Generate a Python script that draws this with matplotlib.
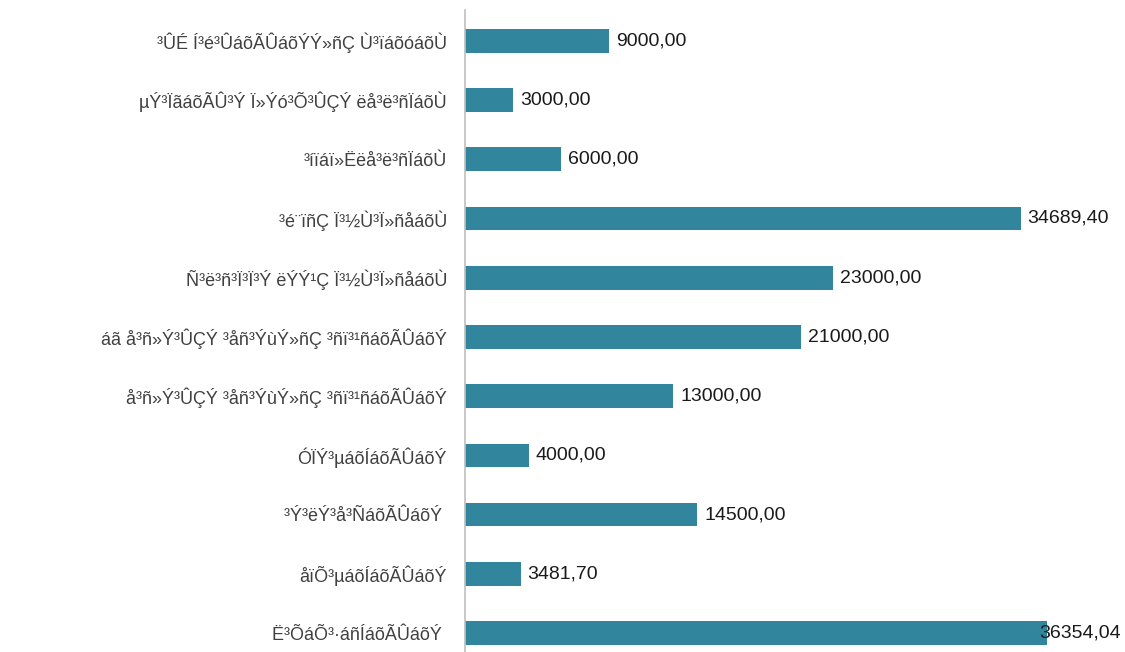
import matplotlib
matplotlib.use("Agg")
import matplotlib.pyplot as plt

# labels as they appear in the picture (ArmSCII text shown in latin-1)
categories = [
    "³ÛÉ Í³é³ÛáõÃÛáõÝÝ»ñÇ Ù³ïáõóáõÙ",
    "µÝ³ÏãáõÃÛ³Ý Ï»Ýó³Õ³ÛÇÝ ëå³ë³ñÏáõÙ",
    "³íïáï»Ëëå³ë³ñÏáõÙ",
    "³é¨ïñÇ Ï³½Ù³Ï»ñåáõÙ",
    "Ñ³ë³ñ³Ï³Ï³Ý ëÝÝ¹Ç Ï³½Ù³Ï»ñåáõÙ",
    "áã å³ñ»Ý³ÛÇÝ ³åñ³ÝùÝ»ñÇ ³ñï³¹ñáõÃÛáõÝ",
    "å³ñ»Ý³ÛÇÝ ³åñ³ÝùÝ»ñÇ ³ñï³¹ñáõÃÛáõÝ",
    "ÓÏÝ³µáõÍáõÃÛáõÝ",
    "³Ý³ëÝ³å³ÑáõÃÛáõÝ ",
    "åïÕ³µáõÍáõÃÛáõÝ",
    "Ë³ÕáÕ³·áñÍáõÃÛáõÝ ",
]
values = [9000.00, 3000.00, 6000.00, 34689.40, 23000.00, 21000.00,
          13000.00, 4000.00, 14500.00, 3481.70, 36354.04]

bar_color = "#31859C"
fonts = ["Liberation Sans", "DejaVu Sans"]

fig = plt.figure(figsize=(11.25, 6.52), dpi=100)
ax = fig.add_axes([0.4133, 0.0, 0.5867, 0.9847])

n = len(categories)
ypos = [n - 1 - i for i in range(n)]
ax.barh(ypos, values, height=0.4, color=bar_color)

xmax = 41200
ax.set_xlim(0, xmax)
ax.set_ylim(-0.32, n - 1 + 0.52)

ax.set_yticks(ypos)
ax.set_yticklabels(categories, fontsize=13, color="#404040", family=fonts)
ax.tick_params(axis="y", length=0, pad=13)
ax.set_xticks([])

for s in ["top", "right", "bottom"]:
    ax.spines[s].set_visible(False)
ax.spines["left"].set_color("#BFBFBF")
ax.spines["left"].set_linewidth(1.2)

# value labels; long ones get pushed back inside the right edge
limit = 0.86
for y, v in zip(ypos, values):
    txt = f"{v:.2f}".replace(".", ",")
    if v / xmax > limit:
        ax.text(0.994, y, txt, transform=ax.get_yaxis_transform(), ha="right",
                va="center", fontsize=14, color="#1a1a1a", family=fonts)
    else:
        ax.annotate(txt, (v, y), xytext=(5, 0), textcoords="offset points",
                    ha="left", va="center", fontsize=14, color="#1a1a1a",
                    family=fonts)

fig.savefig("out.png", dpi=100)
